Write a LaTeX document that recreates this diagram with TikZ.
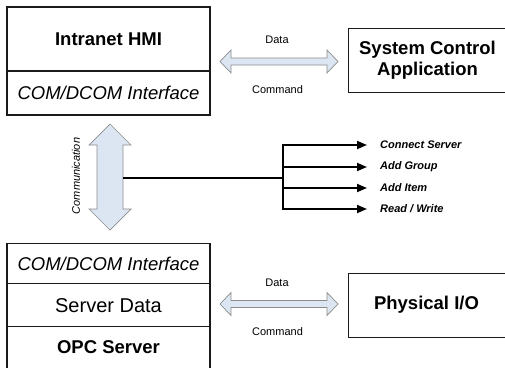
\documentclass[tikz,border=0pt]{standalone}
\usepackage{fontspec}
\setmainfont{Liberation Sans}
\usetikzlibrary{arrows.meta,calc}

\definecolor{arrowfill}{HTML}{DCE6F2}
\definecolor{arrowline}{HTML}{8C8C8C}
\definecolor{boxline}{HTML}{1A1A1A}

\tikzset{
  box/.style={draw=boxline, line width=1.4pt, inner sep=0pt},
  title/.style={font=\fontsize{18.5}{21.5}\selectfont\bfseries, align=center, inner sep=0pt},
  plain/.style={font=\fontsize{18.5}{21.5}\selectfont, inner sep=0pt},
  small/.style={font=\fontsize{11}{13}\selectfont, inner sep=0pt},
  oplabel/.style={font=\fontsize{11}{13}\selectfont\bfseries\itshape, inner sep=0pt, anchor=west},
  dblarrow/.style={draw=arrowline, fill=arrowfill, line width=0.7pt, line join=miter},
  branch/.style={draw=black, line width=1.8pt, -{Triangle[length=10pt,width=8pt]}},
  feed/.style={draw=black, line width=1.8pt},
  % horizontal double arrow, 118 long, drawn from its left tip
  hdarrow/.pic={
    \path[dblarrow] (0,0) -- (11,-11.5) -- (11,-3.5) -- (107,-3.5) -- (107,-11.5)
      -- (118,0) -- (107,11.5) -- (107,3.5) -- (11,3.5) -- (11,11.5) -- cycle;
  }
}

\begin{document}
\begin{tikzpicture}[x=1pt,y=-1pt]
  \clip (0,0) rectangle (505,367);

  % ---- Intranet HMI stack ----
  \node[box, minimum width=203pt, minimum height=64pt] (hmi) at (108.5,39) {};
  \node[title] (hmit) at (hmi.center) {Intranet HMI};
  \node[box, minimum width=203pt, minimum height=44pt] (com1) at (108.5,93) {};
  \node[plain, font=\fontsize{18.5}{21.5}\selectfont\itshape] (com1t) at (com1.center) {COM/DCOM Interface};

  % ---- System Control Application ----
  \node[box, minimum width=212pt, minimum height=64pt, anchor=north west] (sca) at (348,28) {};
  \node[title] (scat) at (427.5,60) {System Control\\Application};

  % ---- OPC Server stack ----
  \node[box, minimum width=203pt, minimum height=40pt, anchor=north] (com2) at (108.5,243) {};
  \node[plain, font=\fontsize{18.5}{21.5}\selectfont\itshape] (com2t) at (com2.center) {COM/DCOM Interface};
  \node[box, minimum width=203pt, minimum height=43pt, anchor=north] (sdata) at (108.5,283) {};
  \node[plain, font=\fontsize{20}{23}\selectfont] (sdatat) at (sdata.center) {Server Data};
  \node[box, minimum width=203pt, minimum height=70pt, anchor=north] (opc) at (108.5,326) {};
  \node[title] (opct) at (108.5,347) {OPC Server};

  % ---- Physical I/O ----
  \node[box, minimum width=212pt, minimum height=64pt, anchor=north west] (pio) at (348,273) {};
  \node[title] (piot) at (426.5,305) {Physical I/O};

  % ---- Data / Command exchange arrows ----
  \coordinate (topL) at (220,61.5);
  \pic at (topL) {hdarrow};
  \node[small] (data1) at (277,40) {Data};
  \node[small] (cmd1) at (277.5,90) {Command};

  \coordinate (botL) at (220,304);
  \pic at (botL) {hdarrow};
  \node[small] (data2) at (277,283) {Data};
  \node[small] (cmd2) at (277.5,332) {Command};

  % ---- Communication arrow between the two COM/DCOM layers ----
  \path[dblarrow] (110,124) -- (131,145) -- (123,145) -- (123,209) -- (131,209)
    -- (110,230) -- (89,209) -- (97,209) -- (97,145) -- (89,145) -- cycle;
  \coordinate (commR) at (123,178);
  \node[small, font=\fontsize{11}{13}\selectfont\itshape, rotate=90] (commt) at (76,176) {Communication};

  % ---- Operations ----
  \node[oplabel] (cs) at (380,145) {Connect Server};
  \node[oplabel] (ag) at (380,167) {Add Group};
  \node[oplabel] (ai) at (380,188) {Add Item};
  \node[oplabel] (rw) at (380,209) {Read / Write};

  \coordinate (hub) at (283,178);
  \draw[feed] (commR) -- (hub);
  \draw[feed] (hub |- cs.west) -- (hub |- rw.west);
  \foreach \op in {cs,ag,ai,rw}
    \draw[branch] ([xshift=-0.9pt]hub |- \op.west) -- ([xshift=-13pt]\op.west);
\end{tikzpicture}
\end{document}
